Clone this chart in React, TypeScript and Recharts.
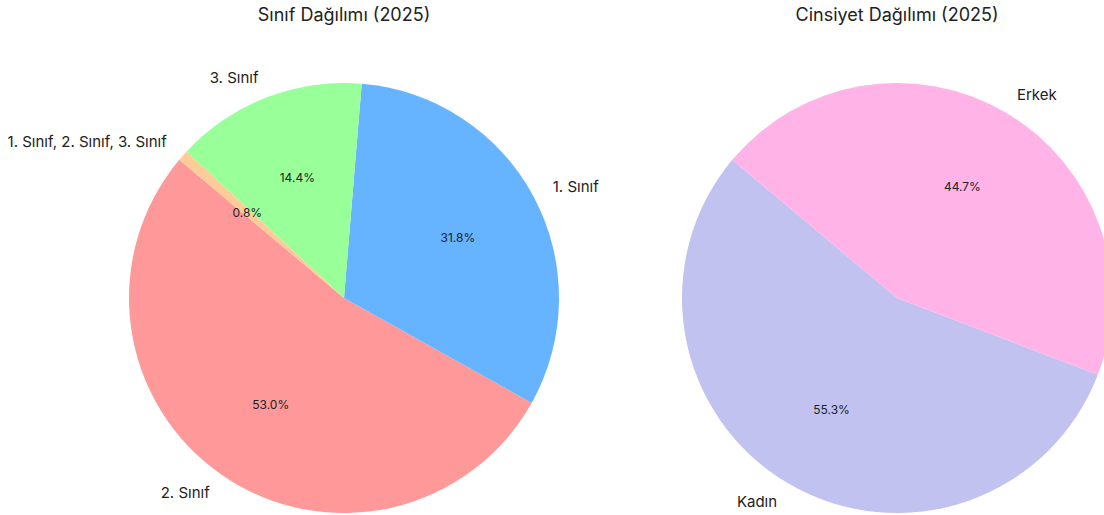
import { PieChart, Pie, Cell } from 'recharts'

// Sınıf dağılımı (yüzde)
const classNames = ['2. Sınıf', '1. Sınıf', '3. Sınıf', '1. Sınıf, 2. Sınıf, 3. Sınıf']
const classValues = [53.0, 31.8, 14.4, 0.8]
const classColors = ['#ff9999', '#66b3ff', '#99ff99', '#ffcc99']

// Cinsiyet dağılımı (yüzde)
const genderNames = ['Kadın', 'Erkek']
const genderValues = [55.3, 44.7]
const genderColors = ['#c2c2f0', '#ffb3e6']

const classData = classNames.map((name, i) => ({ name, value: classValues[i] }))
const genderData = genderNames.map((name, i) => ({ name, value: genderValues[i] }))

const FONT = 'Inter, "DejaVu Sans", sans-serif'
const RADIAN = Math.PI / 180
const R = 215

function renderLabel(props: any) {
  const { cx, cy, midAngle, outerRadius, name, value } = props
  const cos = Math.cos(-midAngle * RADIAN)
  const sin = Math.sin(-midAngle * RADIAN)
  const lx = cx + outerRadius * 1.1 * cos
  const ly = cy + outerRadius * 1.1 * sin
  const px = cx + outerRadius * 0.6 * cos
  const py = cy + outerRadius * 0.6 * sin
  return (
    <g>
      <text
        x={lx}
        y={ly}
        textAnchor={cos >= 0 ? 'start' : 'end'}
        dominantBaseline="central"
        fontSize={15}
        fill="#222"
        fontFamily={FONT}
      >
        {name}
      </text>
      <text
        x={px}
        y={py}
        textAnchor="middle"
        dominantBaseline="central"
        fontSize={12}
        fill="#222"
        fontFamily={FONT}
      >
        {value.toFixed(1)}%
      </text>
    </g>
  )
}

const titleStyle: React.CSSProperties = {
  position: 'absolute',
  top: 4,
  width: 400,
  textAlign: 'center',
  fontFamily: FONT,
  fontSize: 18,
  color: '#222',
  lineHeight: '22px',
}

export default function App() {
  return (
    <div style={{ position: 'absolute', left: 0, top: 0, width: 1104, height: 515, background: '#fff', overflow: 'hidden' }}>
      <div style={{ ...titleStyle, left: 344 - 200 }}>Sınıf Dağılımı (2025)</div>
      <div style={{ ...titleStyle, left: 897 - 200 }}>Cinsiyet Dağılımı (2025)</div>
      <PieChart width={1104} height={515} margin={{ top: 0, right: 0, bottom: 0, left: 0 }}>
        <Pie
          data={classData}
          dataKey="value"
          nameKey="name"
          cx={344}
          cy={298}
          outerRadius={R}
          startAngle={140}
          endAngle={500}
          stroke="none"
          label={renderLabel}
          labelLine={false}
          isAnimationActive={false}
        >
          {classData.map((_, i) => (
            <Cell key={i} fill={classColors[i]} />
          ))}
        </Pie>
        <Pie
          data={genderData}
          dataKey="value"
          nameKey="name"
          cx={897}
          cy={298}
          outerRadius={R}
          startAngle={140}
          endAngle={500}
          stroke="none"
          label={renderLabel}
          labelLine={false}
          isAnimationActive={false}
        >
          {genderData.map((_, i) => (
            <Cell key={i} fill={genderColors[i]} />
          ))}
        </Pie>
      </PieChart>
    </div>
  )
}
